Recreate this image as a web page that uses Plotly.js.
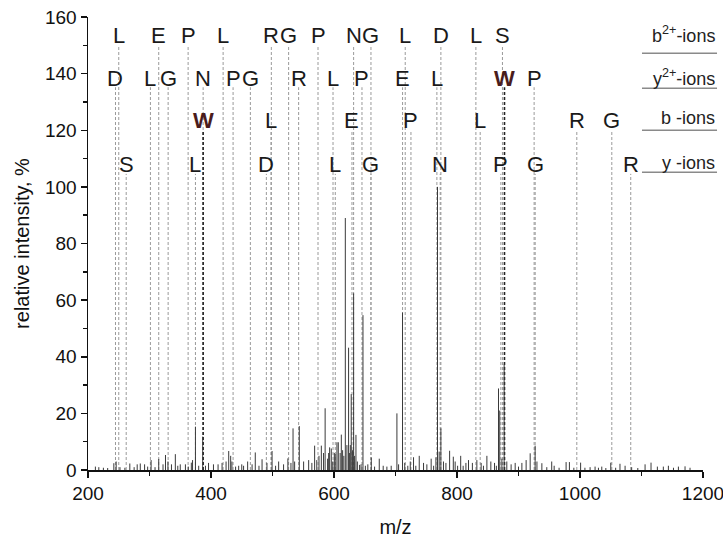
<!DOCTYPE html>
<html>
<head>
<meta charset="utf-8">
<script src="https://cdn.plot.ly/plotly-3.0.1.min.js"></script>
<style>html,body{margin:0;padding:0;background:#fff;}#chart{width:723px;height:540px;}</style>
</head>
<body>
<div id="chart"></div>
<script>
// Spectrum peaks (m/z, relative intensity %)
const peakMz = [212,217.6,225,232,242,245.8,252,260,268,275,280,285,292,297,302.6,309,315,322,326,330,335.7,342,346,350,358.4,363,368,370,374.7,380,386.5,391,396,404,411.5,418,424.5,428.8,432,434,440,445,450,453,459.6,466.8,472,478,483,491,499.3,505,510,518,525,530,533.4,536,543.6,550.6,558.8,564,568.5,572,575.6,579.4,583,585.6,589.6,591.3,592.9,595.6,598,600.5,602,604.8,607,610,611.9,614,616,618.4,621,623.7,625,626.5,628,630,631.9,633.5,635.7,638,641.6,644,647.1,651,655,660.6,666,673.6,680,686,693,702.3,705,711.4,715,720,724,729.3,733,738.6,745.6,751,758,762,765.7,768.3,771,773.8,778,782,788,794,797,801,806,810,814.5,818.7,825,832.3,839.3,843,848.6,855,861,864,867.5,869.5,873,876.7,881,888,894.6,900,905.5,912.4,919,927,930,938,946,954,958,966,977.4,982.8,990,1001,1008,1016.4,1024.5,1030,1035.4,1042,1050,1058,1065,1073.3,1084,1094,1105.8,1115.5,1125.8,1135.5,1143.7,1152,1160,1170.8,1178.9];
const peakInt = [1.2,1.0,0.8,0.7,2.4,3.0,1.0,0.8,2.3,1.0,2.0,2.3,2.0,1.2,3.5,1.0,3.9,2.0,5.3,3.0,2.0,5.6,1.5,2.0,2.0,1.2,2.6,3.5,15.3,1.5,11.8,1.5,2.5,2.0,2.0,2.5,3.0,6.7,5.0,3.0,1.2,1.5,2.0,1.5,3.0,2.0,6.2,1.5,3.8,2.5,6.7,1.5,3.0,2.0,4.1,2.5,14.7,3.0,15.5,3.0,3.5,2.5,8.6,3.5,5.0,8.6,6.0,21.8,4.0,6.0,8.0,7.6,3.0,6.0,5.6,9.8,9.8,6.0,12.5,7.0,5.0,89.0,8.8,43.2,6.0,8.8,26.8,7.0,62.4,5.0,12.4,3.0,1.8,2.0,54.7,1.5,2.0,4.4,1.2,4.0,1.5,1.2,1.5,20.0,2.0,55.6,2.5,1.5,3.0,4.5,1.5,5.0,2.5,2.0,4.0,1.5,4.5,100,6.5,14.7,3.0,2.5,6.8,4.7,3.0,1.5,5.0,1.5,2.5,3.5,2.5,3.5,2.5,1.5,5.0,3.0,2.5,1.5,28.8,21.0,4.0,37.3,3.0,2.0,2.5,1.2,2.5,3.5,5.9,8.6,3.0,2.4,1.0,3.0,1.5,0.8,2.8,2.8,0.8,2.6,0.8,1.0,1.2,0.8,1.2,0.7,2.6,0.8,2.2,1.5,1.0,0.7,2.0,2.6,1.2,1.2,1.5,0.8,1.2,1.3,0.8];

// Fragment ion annotations
const b2Labels = ["L","E","P","L","R","G","P","N","G","L","D","L","S"];
const b2Mz     = [250.0,315.0,362.8,419.7,498.1,526.2,574.0,631.9,660.1,715.8,773.8,830.7,873.9];
const y2Labels = ["D","L","G","N","P","G","R","L","P","E","L","W","P"];
const y2Mz     = [244.7,301.5,330.3,387.2,435.9,464.0,542.5,598.4,645.5,711.5,767.3,877.2,925.4];
const bLabels  = ["W","L","E","P","L","R","G"];
const bMz      = [387.2,497.6,629.2,725.1,837.7,994.8,1051.7];
const yLabels  = ["S","L","D","L","G","N","P","G","R"];
const yMz      = [262.1,374.7,490.0,602.1,660.1,772.7,871.3,927.1,1082.5];
const rowNames = ["b<sup>2+</sup>-ions","y<sup>2+</sup>-ions","b -ions","y -ions"];

const rows = [
  {labels:b2Labels, mz:b2Mz, textY:153.3, lineTop:150.0, legY:153.8, legLine:147.2},
  {labels:y2Labels, mz:y2Mz, textY:138.3, lineTop:135.2, legY:138.7, legLine:134.8},
  {labels:bLabels,  mz:bMz,  textY:123.3, lineTop:119.8, legY:124.4, legLine:120.0},
  {labels:yLabels,  mz:yMz,  textY:108.0, lineTop:104.6, legY:108.6, legLine:105.2}
];

const xs = [], ys = [];
for (let i = 0; i < peakMz.length; i++) {
  xs.push(peakMz[i], peakMz[i], null);
  ys.push(0, peakInt[i], null);
}

const shapes = [], annotations = [];
rows.forEach((r, ri) => {
  r.labels.forEach((lab, i) => {
    const isW = lab === "W";
    shapes.push({type:'line', xref:'x', yref:'y', x0:r.mz[i], x1:r.mz[i], y0:0, y1:r.lineTop,
      layer:'below', line:{color: isW ? '#222' : '#9a9a9a', width: isW ? 1.6 : 1, dash:'3px,2px'}});
    annotations.push({xref:'x', yref:'y', x:r.mz[i], y:r.textY, text: isW ? '<b>W</b>' : lab,
      showarrow:false, xanchor:'center', yanchor:'middle',
      font:{family:'Liberation Sans, Arial, sans-serif', size:22, color: isW ? '#4a1c1c' : '#1a1a1a'}});
  });
  shapes.push({type:'line', xref:'paper', yref:'y', x0:0.9008, x1:1.0228, y0:r.legLine, y1:r.legLine,
    line:{color:'#8a8a8a', width:1.5}});
  annotations.push({xref:'paper', yref:'y', x:1.0228, y:r.legY, text:rowNames[ri], showarrow:false,
    xanchor:'right', yanchor:'middle', font:{family:'Liberation Sans, Arial, sans-serif', size:18, color:'#222'}});
});

const trace = {x:xs, y:ys, type:'scatter', mode:'lines', line:{color:'#3a3a3a', width:1}, hoverinfo:'skip', showlegend:false};

const layout = {
  width:723, height:540,
  margin:{l:88, r:20, t:17, b:70},
  paper_bgcolor:'#fff', plot_bgcolor:'#fff',
  font:{family:'Liberation Sans, Arial, sans-serif', color:'#111', size:19},
  showlegend:false,
  xaxis:{range:[200,1200], dtick:200, tick0:200, ticks:'outside', ticklen:6, tickwidth:1.5, tickcolor:'#111',
    showline:true, linewidth:1.5, linecolor:'#111', showgrid:false, zeroline:false, ticklabeloverflow:'allow',
    minor:{dtick:100, ticks:'outside', ticklen:4, tickwidth:1.5, tickcolor:'#111', showgrid:false},
    tickfont:{size:19}, title:{text:'m/z', font:{size:20}, standoff:16}},
  yaxis:{range:[0,160], dtick:20, ticks:'outside', ticklen:6, tickwidth:1.5, tickcolor:'#111',
    showline:true, linewidth:1.5, linecolor:'#111', showgrid:false, zeroline:false,
    minor:{dtick:10, ticks:'outside', ticklen:4, tickwidth:1.5, tickcolor:'#111', showgrid:false},
    tickfont:{size:19}, title:{text:'relative intensity, %', font:{size:20}, standoff:10}},
  shapes:shapes, annotations:annotations
};

Plotly.newPlot('chart', [trace], layout, {displayModeBar:false, staticPlot:true});
</script>
</body>
</html>
